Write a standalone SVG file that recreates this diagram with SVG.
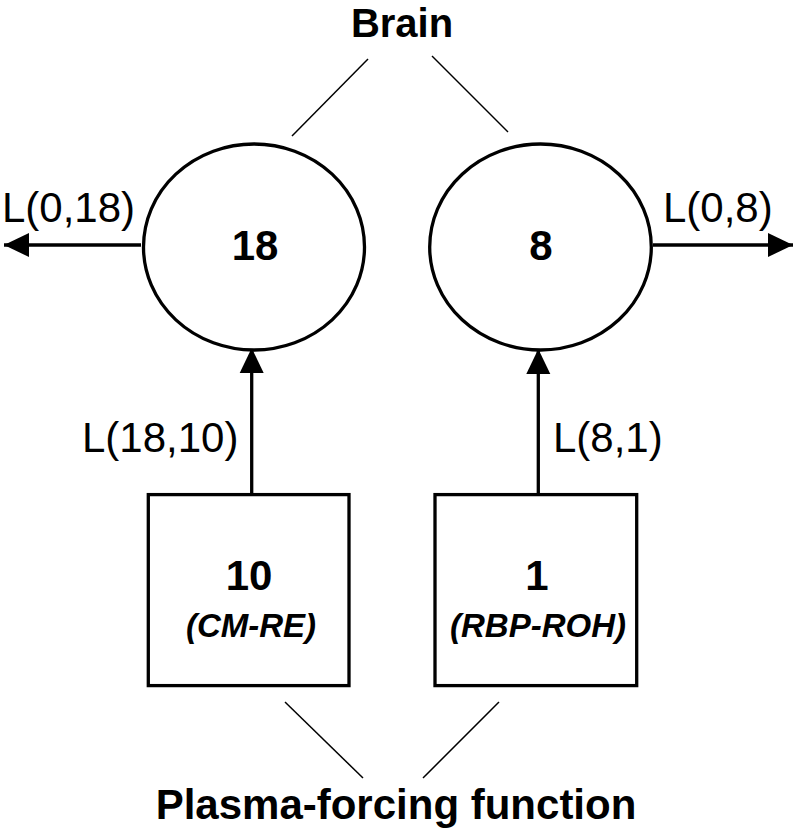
<svg xmlns="http://www.w3.org/2000/svg" width="797" height="832" viewBox="0 0 797 832">
<defs>
<marker id="ah" markerUnits="userSpaceOnUse" markerWidth="26" markerHeight="26" refX="25" refY="12.5" orient="auto" viewBox="0 0 26 26">
<path d="M0,0.5 L25,12.5 L0,24.5 z" fill="#000"/>
</marker>
<style>
.node{fill:#fff;stroke:#000;stroke-width:3.3}
.conn{stroke:#000;stroke-width:3.3;fill:none}
.thin{stroke:#000;stroke-width:1.5;fill:none}
text{font-family:"Liberation Sans",Arial,sans-serif;fill:#000}
.num{font-size:42px;font-weight:bold;text-anchor:middle}
.lab{font-size:42px}
.sub{font-size:33px;font-weight:bold;font-style:italic;text-anchor:middle}
.title{font-size:40px;font-weight:bold;text-anchor:middle}
.title2{font-size:42px;font-weight:bold;text-anchor:middle}
</style>
</defs>
<rect width="797" height="832" fill="#fff"/>
<g id="connectors">
<line class="conn" x1="141" y1="245" x2="4" y2="245" marker-end="url(#ah)"/>
<line class="conn" x1="653" y1="245" x2="793" y2="245" marker-end="url(#ah)"/>
<line class="conn" x1="251.7" y1="493" x2="251.7" y2="348" marker-end="url(#ah)"/>
<line class="conn" x1="538.3" y1="493" x2="538.3" y2="349" marker-end="url(#ah)"/>
<line class="thin" x1="368" y1="59" x2="292" y2="136"/>
<line class="thin" x1="432" y1="56" x2="508" y2="132"/>
<line class="thin" x1="285" y1="702" x2="363" y2="778"/>
<line class="thin" x1="499" y1="702" x2="423" y2="778"/>
</g>
<g id="brain-label"><text class="title" x="402" y="37">Brain</text></g>
<g id="plasma-label"><text class="title2" x="396" y="819">Plasma-forcing function</text></g>
<g id="node18">
<ellipse class="node" cx="254" cy="247" rx="110.5" ry="103"/>
<text class="num" x="255" y="260">18</text>
</g>
<g id="node8">
<ellipse class="node" cx="540.5" cy="247" rx="110.8" ry="103"/>
<text class="num" x="541" y="260">8</text>
</g>
<g id="node10">
<rect class="node" x="148.3" y="494.6" width="200.7" height="191"/>
<text class="num" x="249" y="590">10</text>
<text class="sub" x="251" y="637">(CM-RE)</text>
</g>
<g id="node1">
<rect class="node" x="435" y="494.6" width="201.7" height="191"/>
<text class="num" x="537" y="590">1</text>
<text class="sub" x="538" y="637">(RBP-ROH)</text>
</g>
<g id="labels">
<text class="lab" x="2" y="222">L(0,18)</text>
<text class="lab" x="663" y="222">L(0,8)</text>
<text class="lab" x="82" y="452">L(18,10)</text>
<text class="lab" x="553" y="452">L(8,1)</text>
</g>
</svg>
